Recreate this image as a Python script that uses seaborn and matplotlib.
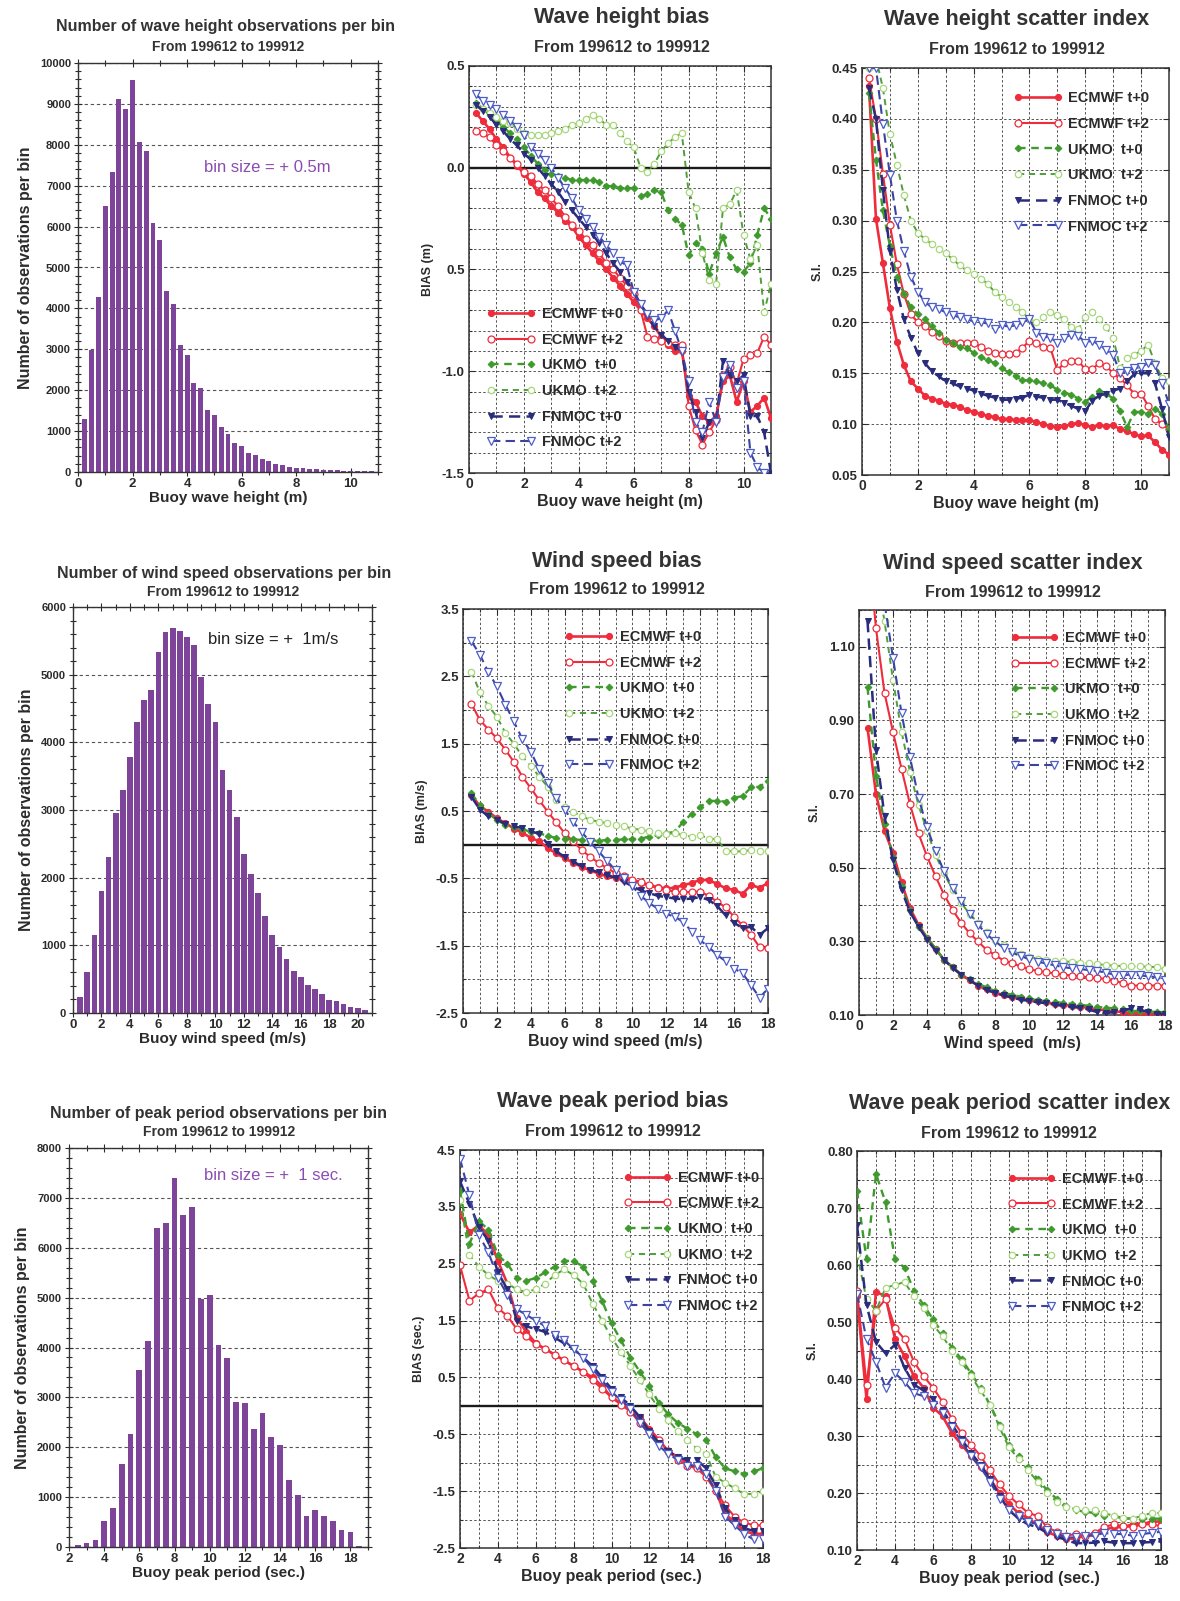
import matplotlib
matplotlib.use("Agg")
import matplotlib.pyplot as plt
from matplotlib.ticker import MultipleLocator, FixedLocator, FixedFormatter
import seaborn as sns

# ---------------- data ----------------
PERIOD = "From 199612 to 199912"
LABELS = ["ECMWF t+0", "ECMWF t+2", "UKMO  t+0", "UKMO  t+2", "FNMOC t+0", "FNMOC t+2"]

# histograms
hist_wh_x = [0.25, 0.5, 0.75, 1.0, 1.25, 1.5, 1.75, 2.0, 2.25, 2.5, 2.75, 3.0, 3.25, 3.5, 3.75,
             4.0, 4.25, 4.5, 4.75, 5.0, 5.25, 5.5, 5.75, 6.0, 6.25, 6.5, 6.75, 7.0, 7.25, 7.5,
             7.75, 8.0, 8.25, 8.5, 8.75, 9.0, 9.25, 9.5, 9.75, 10.0, 10.25, 10.5, 10.75]
hist_wh_n = [1290, 2980, 4280, 6510, 7340, 9120, 8870, 9590, 8080, 7860, 6100, 5670, 4420, 4100, 3110,
             2850, 2170, 2050, 1510, 1400, 1090, 940, 700, 640, 460, 420, 330, 270, 190, 160,
             130, 110, 100, 80, 70, 60, 50, 45, 35, 30, 25, 20, 15]

hist_ws_x = [0.5, 1.0, 1.5, 2.0, 2.5, 3.0, 3.5, 4.0, 4.5, 5.0, 5.5, 6.0, 6.5, 7.0, 7.5, 8.0, 8.5,
             9.0, 9.5, 10.0, 10.5, 11.0, 11.5, 12.0, 12.5, 13.0, 13.5, 14.0, 14.5, 15.0, 15.5,
             16.0, 16.5, 17.0, 17.5, 18.0, 18.5, 19.0, 19.5, 20.0, 20.5]
hist_ws_n = [240, 610, 1150, 1800, 2310, 2950, 3290, 3780, 4300, 4630, 4780, 5330, 5630, 5690, 5650,
             5560, 5440, 4960, 4560, 4300, 3590, 3300, 2890, 2350, 2050, 1770, 1440, 1150, 970, 800,
             620, 530, 420, 350, 280, 190, 170, 130, 90, 70, 40]

hist_pp_x = [2.5, 3.0, 3.5, 4.0, 4.5, 5.0, 5.5, 6.0, 6.5, 7.0, 7.5, 8.0, 8.5, 9.0, 9.5, 10.0, 10.5,
             11.0, 11.5, 12.0, 12.5, 13.0, 13.5, 14.0, 14.5, 15.0, 15.5, 16.0, 16.5, 17.0, 17.5,
             18.0, 18.5]
hist_pp_n = [40, 90, 150, 520, 790, 1670, 2260, 3550, 4130, 6390, 6500, 7400, 6660, 6810, 4970, 5050,
             4050, 3790, 2900, 2880, 2370, 2680, 2210, 2040, 1340, 1040, 620, 740, 620, 520, 350,
             310, 20]

# wave height statistics
wh_x = [0.25, 0.5, 0.75, 1.0, 1.25, 1.5, 1.75, 2.0, 2.25, 2.5, 2.75, 3.0, 3.25, 3.5, 3.75, 4.0,
        4.25, 4.5, 4.75, 5.0, 5.25, 5.5, 5.75, 6.0, 6.25, 6.5, 6.75, 7.0, 7.25, 7.5, 7.75, 8.0,
        8.25, 8.5, 8.75, 9.0, 9.25, 9.5, 9.75, 10.0, 10.25, 10.5, 10.75, 11.0]
wh_bias_ec0 = [0.27, 0.23, 0.19, 0.14, 0.10, 0.05, 0.01, -0.03, -0.07, -0.12, -0.15, -0.19, -0.22, -0.26,
               -0.29, -0.34, -0.38, -0.42, -0.46, -0.50, -0.54, -0.58, -0.62, -0.66, -0.70, -0.74, -0.78,
               -0.83, -0.87, -0.90, -0.90, -1.12, -1.15, -1.22, -1.25, -1.22, -1.05, -1.02, -1.15, -1.05,
               -1.20, -1.17, -1.13, -1.23]
wh_bias_ec2 = [0.18, 0.17, 0.15, 0.11, 0.08, 0.05, 0.02, -0.02, -0.04, -0.08, -0.11, -0.15, -0.19, -0.24,
               -0.28, -0.31, -0.35, -0.38, -0.42, -0.47, -0.50, -0.54, -0.58, -0.62, -0.70, -0.83, -0.84,
               -0.85, -0.86, -0.87, -0.87, -1.17, -1.29, -1.36, -1.30, -1.24, -1.02, -0.98, -1.06, -0.94,
               -0.92, -0.91, -0.83, -0.87]
wh_bias_uk0 = [0.32, 0.29, 0.26, 0.23, 0.20, 0.17, 0.14, 0.10, 0.06, 0.02, -0.01, -0.03, -0.04, -0.05,
               -0.06, -0.06, -0.06, -0.06, -0.07, -0.09, -0.09, -0.10, -0.10, -0.10, -0.14, -0.13, -0.11,
               -0.12, -0.21, -0.25, -0.28, -0.43, -0.37, -0.40, -0.52, -0.42, -0.34, -0.44, -0.50, -0.51,
               -0.47, -0.33, -0.20, -0.25]
wh_bias_uk2 = [0.31, 0.29, 0.27, 0.25, 0.23, 0.22, 0.19, 0.17, 0.16, 0.16, 0.16, 0.17, 0.18, 0.19, 0.21,
               0.22, 0.24, 0.26, 0.24, 0.21, 0.21, 0.17, 0.13, 0.10, 0.00, -0.02, 0.02, 0.08, 0.12, 0.15,
               0.17, -0.12, -0.20, -0.42, -0.55, -0.57, -0.20, -0.18, -0.11, -0.33, -0.45, -0.38, -0.71,
               -0.57]
wh_bias_fn0 = [0.31, 0.28, 0.25, 0.21, 0.18, 0.14, 0.11, 0.07, 0.04, 0.00, -0.04, -0.08, -0.12, -0.17,
               -0.21, -0.25, -0.29, -0.33, -0.37, -0.42, -0.47, -0.51, -0.56, -0.61, -0.67, -0.73, -0.78,
               -0.82, -0.85, -0.88, -0.90, -1.10, -1.20, -1.33, -1.25, -1.25, -0.95, -1.02, -1.05, -1.02,
               -1.22, -1.22, -1.30, -1.50]
wh_bias_fn2 = [0.36, 0.33, 0.31, 0.29, 0.26, 0.23, 0.20, 0.16, 0.10, 0.07, 0.04, 0.00, -0.05, -0.10,
               -0.15, -0.21, -0.25, -0.29, -0.34, -0.38, -0.42, -0.46, -0.48, -0.61, -0.67, -0.72, -0.75,
               -0.74, -0.70, -0.80, -0.90, -1.05, -1.25, -1.30, -1.15, -1.25, -1.03, -0.97, -1.08, -1.05,
               -1.40, -1.47, -1.50, -1.58]

wh_si_ec0 = [0.432, 0.302, 0.258, 0.214, 0.181, 0.158, 0.142, 0.135, 0.128, 0.125, 0.123, 0.120, 0.119,
             0.117, 0.114, 0.112, 0.110, 0.108, 0.107, 0.105, 0.105, 0.104, 0.104, 0.104, 0.102, 0.100,
             0.098, 0.097, 0.098, 0.100, 0.101, 0.099, 0.097, 0.099, 0.098, 0.099, 0.095, 0.093, 0.090,
             0.088, 0.089, 0.082, 0.075, 0.070]
wh_si_ec2 = [0.440, 0.400, 0.346, 0.296, 0.257, 0.228, 0.208, 0.200, 0.196, 0.191, 0.187, 0.182, 0.180,
             0.180, 0.180, 0.180, 0.176, 0.172, 0.170, 0.169, 0.169, 0.170, 0.175, 0.182, 0.180, 0.176,
             0.175, 0.153, 0.160, 0.162, 0.162, 0.154, 0.154, 0.160, 0.157, 0.150, 0.145, 0.138, 0.130,
             0.130, 0.118, 0.105, 0.100, 0.095]
wh_si_uk0 = [0.425, 0.360, 0.310, 0.275, 0.245, 0.228, 0.215, 0.208, 0.203, 0.196, 0.190, 0.183, 0.180,
             0.176, 0.175, 0.170, 0.166, 0.163, 0.160, 0.155, 0.151, 0.147, 0.143, 0.143, 0.142, 0.140,
             0.138, 0.134, 0.131, 0.129, 0.125, 0.122, 0.127, 0.133, 0.130, 0.125, 0.113, 0.097, 0.112,
             0.112, 0.110, 0.115, 0.110, 0.095]
wh_si_uk2 = [0.450, 0.460, 0.430, 0.385, 0.355, 0.325, 0.300, 0.288, 0.282, 0.277, 0.272, 0.268, 0.262,
             0.256, 0.251, 0.248, 0.243, 0.238, 0.230, 0.225, 0.220, 0.215, 0.210, 0.203, 0.200, 0.205,
             0.210, 0.207, 0.203, 0.195, 0.193, 0.205, 0.210, 0.203, 0.195, 0.185, 0.155, 0.165, 0.168,
             0.172, 0.178, 0.160, 0.145, 0.142]
wh_si_fn0 = [0.430, 0.400, 0.330, 0.270, 0.232, 0.203, 0.185, 0.170, 0.160, 0.152, 0.147, 0.142, 0.140,
             0.137, 0.135, 0.133, 0.130, 0.128, 0.126, 0.124, 0.124, 0.125, 0.126, 0.129, 0.127, 0.126,
             0.124, 0.124, 0.121, 0.118, 0.115, 0.113, 0.123, 0.128, 0.130, 0.133, 0.135, 0.142, 0.149,
             0.150, 0.150, 0.140, 0.115, 0.087]
wh_si_fn2 = [0.450, 0.450, 0.395, 0.345, 0.300, 0.270, 0.245, 0.230, 0.220, 0.215, 0.213, 0.210, 0.207,
             0.205, 0.203, 0.201, 0.200, 0.199, 0.193, 0.197, 0.196, 0.197, 0.200, 0.203, 0.190, 0.186,
             0.185, 0.180, 0.185, 0.188, 0.187, 0.180, 0.182, 0.178, 0.173, 0.168, 0.150, 0.152, 0.155,
             0.156, 0.160, 0.158, 0.140, 0.120]

# wind speed statistics
ws_x = [0.5, 1.0, 1.5, 2.0, 2.5, 3.0, 3.5, 4.0, 4.5, 5.0, 5.5, 6.0, 6.5, 7.0, 7.5, 8.0, 8.5, 9.0,
        9.5, 10.0, 10.5, 11.0, 11.5, 12.0, 12.5, 13.0, 13.5, 14.0, 14.5, 15.0, 15.5, 16.0, 16.5,
        17.0, 17.5, 18.0]
ws_bias_ec0 = [0.74, 0.57, 0.49, 0.39, 0.32, 0.24, 0.18, 0.10, 0.05, -0.05, -0.13, -0.20, -0.27, -0.33,
               -0.38, -0.43, -0.47, -0.49, -0.52, -0.53, -0.57, -0.60, -0.63, -0.65, -0.64, -0.60, -0.57,
               -0.52, -0.53, -0.58, -0.65, -0.67, -0.73, -0.60, -0.64, -0.57]
ws_bias_ec2 = [2.09, 1.85, 1.71, 1.58, 1.41, 1.23, 1.01, 0.84, 0.66, 0.49, 0.33, 0.17, 0.05, -0.08, -0.18,
               -0.27, -0.35, -0.42, -0.47, -0.52, -0.55, -0.60, -0.65, -0.67, -0.70, -0.71, -0.70, -0.70,
               -0.76, -0.85, -0.93, -1.07, -1.20, -1.34, -1.52, -1.54]
ws_bias_uk0 = [0.76, 0.59, 0.46, 0.37, 0.29, 0.26, 0.23, 0.19, 0.17, 0.13, 0.10, 0.09, 0.08, 0.07, 0.06,
               0.06, 0.07, 0.07, 0.08, 0.08, 0.09, 0.12, 0.14, 0.17, 0.19, 0.34, 0.46, 0.56, 0.65, 0.65,
               0.64, 0.70, 0.72, 0.85, 0.86, 0.95]
ws_bias_uk2 = [2.57, 2.26, 2.06, 1.90, 1.66, 1.50, 1.31, 1.17, 1.01, 0.86, 0.67, 0.56, 0.49, 0.42, 0.37,
               0.34, 0.32, 0.29, 0.27, 0.24, 0.22, 0.20, 0.17, 0.16, 0.17, 0.14, 0.12, 0.14, 0.09, 0.08,
               -0.09, -0.10, -0.10, -0.08, -0.09, -0.10]
ws_bias_fn0 = [0.71, 0.52, 0.42, 0.37, 0.31, 0.27, 0.25, 0.20, 0.16, 0.01, -0.10, -0.18, -0.25, -0.32,
               -0.37, -0.41, -0.45, -0.49, -0.55, -0.62, -0.68, -0.72, -0.76, -0.78, -0.80, -0.81, -0.80,
               -0.78, -0.82, -0.91, -1.05, -1.16, -1.24, -1.22, -1.34, -1.24]
ws_bias_fn2 = [3.02, 2.82, 2.56, 2.35, 2.08, 1.83, 1.57, 1.38, 1.12, 0.91, 0.69, 0.52, 0.34, 0.19, 0.04,
               -0.10, -0.24, -0.38, -0.50, -0.62, -0.76, -0.87, -0.95, -1.03, -1.07, -1.15, -1.29, -1.42,
               -1.52, -1.64, -1.73, -1.84, -1.91, -2.09, -2.27, -2.14]

ws_si_ec0 = [0.88, 0.70, 0.60, 0.54, 0.46, 0.39, 0.345, 0.31, 0.28, 0.25, 0.23, 0.21, 0.195, 0.18, 0.17,
             0.16, 0.155, 0.15, 0.145, 0.14, 0.138, 0.135, 0.13, 0.128, 0.125, 0.122, 0.12, 0.115, 0.113,
             0.11, 0.108, 0.105, 0.105, 0.103, 0.102, 0.10]
ws_si_ec2 = [1.40, 1.15, 0.975, 0.869, 0.769, 0.672, 0.593, 0.531, 0.477, 0.427, 0.386, 0.351, 0.322,
             0.300, 0.277, 0.263, 0.248, 0.241, 0.232, 0.224, 0.220, 0.216, 0.213, 0.210, 0.207, 0.205,
             0.202, 0.200, 0.198, 0.193, 0.187, 0.180, 0.180, 0.180, 0.180, 0.180]
ws_si_uk0 = [0.99, 0.75, 0.62, 0.53, 0.45, 0.385, 0.34, 0.31, 0.28, 0.25, 0.23, 0.21, 0.197, 0.185, 0.175,
             0.165, 0.16, 0.155, 0.15, 0.145, 0.14, 0.138, 0.135, 0.133, 0.13, 0.128, 0.125, 0.122, 0.12,
             0.118, 0.115, 0.112, 0.11, 0.11, 0.108, 0.108]
ws_si_uk2 = [1.45, 1.30, 1.17, 1.01, 0.87, 0.76, 0.67, 0.60, 0.535, 0.485, 0.44, 0.405, 0.375, 0.35,
             0.325, 0.305, 0.29, 0.275, 0.265, 0.258, 0.253, 0.25, 0.248, 0.246, 0.244, 0.242, 0.24, 0.238,
             0.236, 0.234, 0.233, 0.232, 0.232, 0.231, 0.23, 0.225]
ws_si_fn0 = [1.17, 0.82, 0.64, 0.52, 0.44, 0.38, 0.34, 0.305, 0.275, 0.25, 0.228, 0.21, 0.195, 0.18, 0.168,
             0.16, 0.153, 0.147, 0.142, 0.138, 0.135, 0.132, 0.128, 0.125, 0.122, 0.12, 0.115, 0.108,
             0.105, 0.108, 0.112, 0.118, 0.115, 0.108, 0.104, 0.102]
ws_si_fn2 = [1.45, 1.35, 1.22, 1.07, 0.92, 0.80, 0.69, 0.61, 0.545, 0.49, 0.445, 0.41, 0.375, 0.345, 0.32,
             0.30, 0.283, 0.27, 0.26, 0.252, 0.245, 0.24, 0.235, 0.23, 0.227, 0.225, 0.222, 0.22, 0.215,
             0.21, 0.208, 0.21, 0.208, 0.205, 0.203, 0.195]

# peak period statistics
pp_x = [2.0, 2.5, 3.0, 3.5, 4.0, 4.5, 5.0, 5.5, 6.0, 6.5, 7.0, 7.5, 8.0, 8.5, 9.0, 9.5, 10.0, 10.5,
        11.0, 11.5, 12.0, 12.5, 13.0, 13.5, 14.0, 14.5, 15.0, 15.5, 16.0, 16.5, 17.0, 17.5, 18.0]
pp_bias_ec0 = [3.38, 3.05, 3.18, 3.00, 2.55, 2.15, 1.55, 1.30, 1.10, 1.00, 0.90, 0.80, 0.70, 0.60, 0.50,
               0.35, 0.15, 0.05, -0.05, -0.20, -0.40, -0.60, -0.80, -0.90, -1.00, -1.10, -1.20, -1.50,
               -1.90, -2.05, -2.20, -2.25, -2.25]
pp_bias_ec2 = [2.47, 1.85, 1.98, 2.05, 1.72, 1.58, 1.35, 1.22, 1.08, 1.00, 0.90, 0.80, 0.70, 0.60, 0.45,
               0.30, 0.15, 0.02, -0.10, -0.30, -0.45, -0.60, -0.80, -0.95, -1.05, -1.10, -1.25, -1.50,
               -1.75, -1.95, -2.05, -2.10, -2.10]
pp_bias_uk0 = [3.78, 2.85, 3.25, 3.10, 2.65, 2.50, 2.25, 2.20, 2.25, 2.35, 2.45, 2.55, 2.55, 2.45, 2.20,
               1.85, 1.45, 1.15, 0.85, 0.60, 0.35, 0.05, -0.15, -0.30, -0.40, -0.50, -0.60, -0.90, -1.10,
               -1.15, -1.20, -1.15, -1.10]
pp_bias_uk2 = [3.62, 2.65, 2.45, 2.30, 2.20, 2.15, 2.05, 2.00, 2.05, 2.15, 2.30, 2.40, 2.30, 2.15, 1.80,
               1.50, 1.20, 0.95, 0.70, 0.45, 0.20, -0.05, -0.25, -0.45, -0.60, -0.75, -0.85, -1.25, -1.35,
               -1.45, -1.55, -1.55, -1.50]
pp_bias_fn0 = [3.95, 3.55, 3.15, 2.90, 2.35, 2.05, 1.50, 1.40, 1.35, 1.30, 1.20, 1.10, 1.00, 0.85, 0.70,
               0.50, 0.30, 0.15, 0.00, -0.20, -0.45, -0.65, -0.80, -0.90, -0.95, -0.95, -1.10, -1.40,
               -1.80, -2.00, -2.15, -2.20, -2.20]
pp_bias_fn2 = [4.35, 3.70, 3.00, 2.70, 2.25, 1.95, 1.70, 1.60, 1.50, 1.40, 1.25, 1.15, 1.00, 0.85, 0.65,
               0.45, 0.25, 0.10, -0.05, -0.30, -0.50, -0.70, -0.85, -0.95, -1.05, -1.05, -1.20, -1.50,
               -1.95, -2.10, -2.25, -2.35, -2.35]

pp_si_ec0 = [0.545, 0.365, 0.553, 0.545, 0.470, 0.440, 0.405, 0.385, 0.350, 0.335, 0.305, 0.285, 0.265,
             0.245, 0.225, 0.200, 0.180, 0.165, 0.155, 0.145, 0.132, 0.125, 0.120, 0.120, 0.125, 0.128,
             0.135, 0.140, 0.140, 0.145, 0.145, 0.150, 0.150]
pp_si_ec2 = [0.555, 0.390, 0.520, 0.540, 0.490, 0.470, 0.430, 0.405, 0.385, 0.360, 0.330, 0.305, 0.285,
             0.265, 0.240, 0.215, 0.195, 0.180, 0.165, 0.160, 0.140, 0.132, 0.125, 0.128, 0.125, 0.130,
             0.140, 0.145, 0.142, 0.140, 0.145, 0.145, 0.142]
pp_si_uk0 = [0.730, 0.610, 0.760, 0.710, 0.610, 0.595, 0.555, 0.530, 0.505, 0.480, 0.455, 0.435, 0.410,
             0.385, 0.355, 0.320, 0.285, 0.265, 0.245, 0.225, 0.205, 0.190, 0.178, 0.170, 0.167, 0.165,
             0.160, 0.160, 0.155, 0.155, 0.155, 0.155, 0.155]
pp_si_uk2 = [0.620, 0.540, 0.520, 0.560, 0.565, 0.570, 0.545, 0.525, 0.495, 0.475, 0.450, 0.430, 0.405,
             0.380, 0.355, 0.315, 0.280, 0.260, 0.240, 0.220, 0.200, 0.185, 0.175, 0.172, 0.170, 0.170,
             0.165, 0.160, 0.157, 0.155, 0.160, 0.165, 0.165]
pp_si_fn0 = [0.670, 0.530, 0.465, 0.445, 0.460, 0.420, 0.390, 0.380, 0.365, 0.345, 0.320, 0.295, 0.270,
             0.250, 0.225, 0.195, 0.170, 0.155, 0.145, 0.140, 0.130, 0.123, 0.118, 0.112, 0.112, 0.113,
             0.115, 0.113, 0.112, 0.112, 0.113, 0.114, 0.115]
pp_si_fn2 = [0.550, 0.470, 0.430, 0.385, 0.410, 0.395, 0.375, 0.370, 0.355, 0.340, 0.315, 0.290, 0.265,
             0.245, 0.220, 0.190, 0.170, 0.160, 0.150, 0.145, 0.135, 0.128, 0.122, 0.122, 0.125, 0.125,
             0.130, 0.128, 0.128, 0.125, 0.128, 0.130, 0.132]

# ---------------- style ----------------
INK = "#2b2b2b"
PURPLE = "#7d4499"
RED = "#ee2c3c"
GREEN = "#3f9a2d"
GREEN2 = "#4f9f3a"
LGREEN = "#a9d77e"
NAVY = "#2a2c7c"
BLUE = "#3a44a0"
BLUE2 = "#4d5dc8"

sns.set_style("ticks")
plt.rcParams["font.family"] = ["Liberation Sans", "DejaVu Sans"]
plt.rcParams["font.weight"] = "bold"
plt.rcParams["axes.labelweight"] = "bold"
plt.rcParams["text.color"] = INK
plt.rcParams["axes.labelcolor"] = INK
plt.rcParams["xtick.color"] = INK
plt.rcParams["ytick.color"] = INK
plt.rcParams["axes.edgecolor"] = "#333333"

SERIES_STYLE = [
    dict(color=RED, marker="o", markersize=4.4, markerfacecolor=RED, markeredgecolor=RED,
         linestyle="-", linewidth=1.9),
    dict(color=RED, marker="o", markersize=5.0, markerfacecolor="white", markeredgecolor=RED,
         markeredgewidth=0.9, linestyle="-", linewidth=1.5),
    dict(color=GREEN, marker="D", markersize=3.4, markerfacecolor=GREEN, markeredgecolor=GREEN,
         linestyle=(0, (3.2, 2.4)), linewidth=1.7),
    dict(color=GREEN2, marker="o", markersize=4.6, markerfacecolor="white", markeredgecolor=LGREEN,
         markeredgewidth=0.9, linestyle=(0, (3.2, 2.4)), linewidth=1.4),
    dict(color=NAVY, marker="v", markersize=5.0, markerfacecolor=NAVY, markeredgecolor=NAVY,
         linestyle=(0, (4.5, 2.5)), linewidth=1.8),
    dict(color=BLUE, marker="v", markersize=5.4, markerfacecolor="white", markeredgecolor=BLUE2,
         markeredgewidth=0.9, linestyle=(0, (4.5, 2.5)), linewidth=1.5),
]

W, H = 1180, 1601
fig = plt.figure(figsize=(W / 100, H / 100), dpi=100)
fig.patch.set_facecolor("white")


def box(l, t, r, b):
    return fig.add_axes([l / W, 1 - b / H, (r - l) / W, (b - t) / H])


def ftext(x, y, s, size, **kw):
    fig.text(x / W, 1 - y / H, s, ha="center", va="center", fontsize=size,
             fontweight="bold", color=kw.pop("color", "#333333"), **kw)


def hist_panel(ax, x, n, width, xlim, xmaj, xmin, ymax, xlabel, note, note_color):
    sns.barplot(x=x, y=n, ax=ax, native_scale=True, width=width, color=PURPLE,
                saturation=1, errorbar=None, linewidth=0, zorder=2)
    ax.set_xlim(*xlim)
    ax.set_ylim(0, ymax)
    ax.xaxis.set_major_locator(MultipleLocator(xmaj))
    ax.xaxis.set_minor_locator(MultipleLocator(xmin))
    ax.yaxis.set_major_locator(MultipleLocator(1000))
    ax.yaxis.set_minor_locator(MultipleLocator(200))
    ax.grid(False)
    ax.yaxis.grid(True, which="major", linestyle=(0, (3, 2.5)), color="#555555", linewidth=0.8)
    ax.set_axisbelow(True)
    ax.tick_params(which="both", direction="inout", top=True, right=True, width=0.8)
    ax.tick_params(which="major", length=6)
    ax.tick_params(which="minor", length=4)
    ax.tick_params(axis="y", labelsize=8, pad=2)
    ax.tick_params(axis="x", labelsize=9.5, pad=1)
    for s in ax.spines.values():
        s.set_linewidth(1.0)
    ax.set_xlabel(xlabel, fontsize=11, labelpad=1)
    ax.set_ylabel("Number of observations per bin", fontsize=11.5, labelpad=5)
    ax.text(note[0], note[1], note[2], transform=ax.transAxes, fontsize=12,
            fontweight="normal", color=note_color, ha="left", va="center")


def line_panel(ax, x, series, xlim, xmaj, ylim, yticks, ylabels, ymin, xlabel, ylabel,
               anchor, legend_loc="upper left", zero=False):
    for lab, st, y in zip(LABELS, SERIES_STYLE, series):
        sns.lineplot(x=x, y=y, ax=ax, label=lab, errorbar=None, zorder=3, **st)
    if zero:
        ax.axhline(0, color="#1a1a1a", linewidth=1.7, zorder=2)
    ax.set_xlim(*xlim)
    ax.set_ylim(*ylim)
    ax.xaxis.set_major_locator(MultipleLocator(xmaj))
    ax.xaxis.set_minor_locator(MultipleLocator(1))
    ax.yaxis.set_major_locator(FixedLocator(yticks))
    ax.yaxis.set_major_formatter(FixedFormatter(ylabels))
    ax.yaxis.set_minor_locator(MultipleLocator(ymin))
    ax.grid(True, which="both", linestyle=(0, (2.5, 2.2)), color="#555555", linewidth=0.7)
    ax.set_axisbelow(True)
    ax.tick_params(which="both", direction="in", top=True, right=True, width=0.8)
    ax.tick_params(which="major", length=4)
    ax.tick_params(which="minor", length=2.5)
    ax.tick_params(axis="y", labelsize=9.5, pad=3)
    ax.tick_params(axis="x", labelsize=10, pad=3)
    for s in ax.spines.values():
        s.set_linewidth(1.1)
    ax.set_xlabel(xlabel, fontsize=11.5, labelpad=2)
    ax.set_ylabel(ylabel, fontsize=9, labelpad=6)
    handles, labels = ax.get_legend_handles_labels()
    ax.legend(handles, labels, loc=legend_loc, bbox_to_anchor=anchor, frameon=False,
              fontsize=10.5, numpoints=2, handlelength=3.3, handletextpad=0.45,
              labelspacing=0.8, borderpad=0.2, borderaxespad=0)


# ---------------- row 1: wave height ----------------
ax = box(78, 63, 378, 472)
hist_panel(ax, hist_wh_x, hist_wh_n, 0.72, (0, 11), 2, 1, 10000, "Buoy wave height (m)",
           (0.42, 0.745, "bin size = + 0.5m"), "#8a4cb3")
ftext(225, 27, "Number of wave height observations per bin", 11.5)
ftext(228, 47, PERIOD, 10)

ax = box(469, 66, 771, 473)
line_panel(ax, wh_x, [wh_bias_ec0, wh_bias_ec2, wh_bias_uk0, wh_bias_uk2, wh_bias_fn0, wh_bias_fn2],
           (0, 11), 2, (-1.5, 0.5), [0.5, 0.0, -0.5, -1.0, -1.5],
           ["0.5", "0.0", "0.5", "-1.0", "-1.5"], 0.1, "Buoy wave height (m)", "BIAS (m)",
           (0.05, 0.415), zero=True)
ftext(622, 18, "Wave height bias", 15.5)
ftext(622, 47, PERIOD, 11.5)

ax = box(862, 68, 1169, 475)
line_panel(ax, wh_x, [wh_si_ec0, wh_si_ec2, wh_si_uk0, wh_si_uk2, wh_si_fn0, wh_si_fn2],
           (0, 11), 2, (0.05, 0.45), [0.05, 0.10, 0.15, 0.20, 0.25, 0.30, 0.35, 0.40, 0.45],
           ["0.05", "0.10", "0.15", "0.20", "0.25", "0.30", "0.35", "0.40", "0.45"], 0.05,
           "Buoy wave height (m)", "S.I.", (0.485, 0.95))
ftext(1017, 20, "Wave height scatter index", 15.5)
ftext(1017, 49, PERIOD, 11.5)

# ---------------- row 2: wind speed ----------------
ax = box(73, 607, 372, 1013)
hist_panel(ax, hist_ws_x, hist_ws_n, 0.8, (0, 21), 2, 1, 6000, "Buoy wind speed (m/s)",
           (0.45, 0.92, "bin size = +  1m/s"), "#222222")
ftext(224, 573, "Number of wind speed observations per bin", 11.5)
ftext(223, 592, PERIOD, 10)

ax = box(463, 609, 768, 1013)
line_panel(ax, ws_x, [ws_bias_ec0, ws_bias_ec2, ws_bias_uk0, ws_bias_uk2, ws_bias_fn0, ws_bias_fn2],
           (0, 18), 2, (-2.5, 3.5), [3.5, 2.5, 1.5, 0.5, -0.5, -1.5, -2.5],
           ["3.5", "2.5", "1.5", "0.5", "-0.5", "-1.5", "-2.5"], 0.5,
           "Buoy wind speed (m/s)", "BIAS (m/s)", (0.325, 0.955), zero=True)
ftext(617, 561, "Wind speed bias", 15.5)
ftext(617, 590, PERIOD, 11.5)

ax = box(859, 610, 1165, 1015)
line_panel(ax, ws_x, [ws_si_ec0, ws_si_ec2, ws_si_uk0, ws_si_uk2, ws_si_fn0, ws_si_fn2],
           (0, 18), 2, (0.10, 1.20), [0.10, 0.30, 0.50, 0.70, 0.90, 1.10],
           ["0.10", "0.30", "0.50", "0.70", "0.90", "1.10"], 0.1,
           "Wind speed  (m/s)", "S.I.", (0.485, 0.955))
ftext(1013, 563, "Wind speed scatter index", 15.5)
ftext(1013, 592, PERIOD, 11.5)

# ---------------- row 3: peak period ----------------
ax = box(69, 1148, 368, 1547)
hist_panel(ax, hist_pp_x, hist_pp_n, 0.65, (2, 19), 2, 1, 8000, "Buoy peak period (sec.)",
           (0.45, 0.93, "bin size = +  1 sec."), "#8a4cb3")
ftext(219, 1113, "Number of peak period observations per bin", 11.5)
ftext(219, 1132, PERIOD, 10)

ax = box(460, 1150, 763, 1548)
line_panel(ax, pp_x, [pp_bias_ec0, pp_bias_ec2, pp_bias_uk0, pp_bias_uk2, pp_bias_fn0, pp_bias_fn2],
           (2, 18), 2, (-2.5, 4.5), [4.5, 3.5, 2.5, 1.5, 0.5, -0.5, -1.5, -2.5],
           ["4.5", "3.5", "2.5", "1.5", "0.5", "-0.5", "-1.5", "-2.5"], 0.5,
           "Buoy peak period (sec.)", "BIAS (sec.)", (0.53, 0.955), zero=True)
ftext(613, 1102, "Wave peak period bias", 15.5)
ftext(613, 1131, PERIOD, 11.5)

ax = box(857, 1151, 1161, 1550)
line_panel(ax, pp_x, [pp_si_ec0, pp_si_ec2, pp_si_uk0, pp_si_uk2, pp_si_fn0, pp_si_fn2],
           (2, 18), 2, (0.10, 0.80), [0.10, 0.20, 0.30, 0.40, 0.50, 0.60, 0.70, 0.80],
           ["0.10", "0.20", "0.30", "0.40", "0.50", "0.60", "0.70", "0.80"], 0.05,
           "Buoy peak period (sec.)", "S.I.", (0.485, 0.955))
ftext(1010, 1104, "Wave peak period scatter index", 15.5)
ftext(1009, 1133, PERIOD, 11.5)

fig.savefig("out.png", dpi=100, facecolor="white")
